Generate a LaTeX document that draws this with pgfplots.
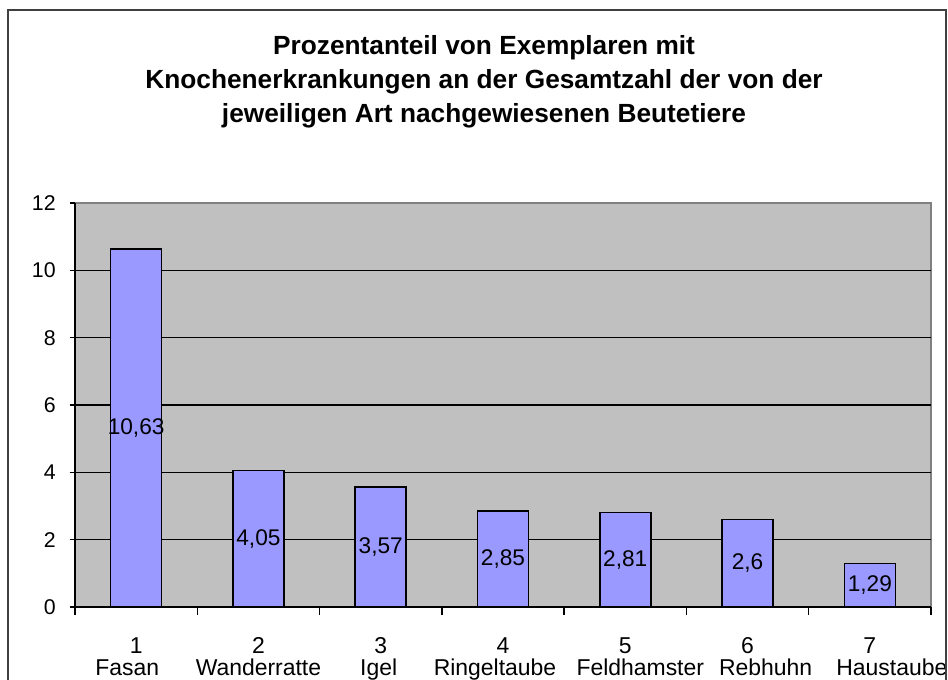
\documentclass[border=0pt]{standalone}
\usepackage{pgfplots}
\pgfplotsset{compat=1.18}
\usepackage{fontspec}
\setmainfont{Liberation Sans}
\definecolor{plotbg}{RGB}{192,192,192}
\definecolor{barfill}{RGB}{153,153,255}
\definecolor{plotedge}{RGB}{128,128,128}
\begin{document}
\begin{tikzpicture}
\useasboundingbox (-56.25pt,-54.75pt) rectangle (654.75pt,455.25pt);
\clip (-56.25pt,-54.75pt) rectangle (654.75pt,455.25pt);
\fill[white] (-56.25pt,-54.75pt) rectangle (654.75pt,455.25pt);
\begin{axis}[
  at={(0pt,0pt)}, anchor=south west,
  scale only axis, width=642pt, height=303pt,
  ybar, bar width=38.25pt,
  xmin=0.5, xmax=7.5, ymin=0, ymax=12,
  axis x line*=bottom, axis y line*=left,
  axis line style={black, line width=1.1pt},
  axis background/.style={fill=plotbg, draw=plotedge, line width=0.8pt},
  ytick={0,2,...,12},
  extra y ticks={2,4,6,8,10}, extra y tick labels={},
  extra y tick style={grid=major, major tick length=0pt},
  grid style={black, line width=1.2pt},
  xtick={1,...,7},
  xticklabels={{1\\Fasan\hspace*{13.5pt}},{2\\Wanderratte},{3\\Igel\hspace*{3pt}},{4\\Ringeltaube\hspace*{12pt}},{5\\\hspace*{22.5pt}Feldhamster},{6\\\hspace*{27pt}Rebhuhn},{7\\\hspace*{33pt}Haustaube}},
  minor xtick={0.5,1.5,...,7.5},
  tick align=outside,
  major tick length=4pt,
  minor tick length=6pt,
  tick style={black, line width=1.1pt},
  major x tick style={draw=none},
  xticklabel style={font={\fontsize{17.2}{16.3}\selectfont\lineskiplimit=-50pt}, align=center, anchor=north, text height=12.5pt, yshift=-31pt},
  yticklabel style={font=\fontsize{16}{16}\selectfont, xshift=-7pt},
  /pgf/number format/assume math mode=true,
  visualization depends on={\thisrow{y} \as \rawy},
  nodes near coords={\pgfmathprintnumber[use comma,precision=2]{\pgfplotspointmeta}},
  every node near coord/.append style={font=\fontsize{17}{17}\selectfont, text=black, anchor=center, yshift={-\rawy*12.625pt}},
  clip=false,
]
\addplot[fill=barfill, draw=black, line width=1.1pt] table {
x y
1 10.63
2 4.05
3 3.57
4 2.85
5 2.81
6 2.6
7 1.29
};
\end{axis}
\node[font=\bfseries\fontsize{19.7}{25.5}\selectfont, align=center] at (306.75pt,393.75pt)
  {Prozentanteil von Exemplaren mit\\Knochenerkrankungen an der Gesamtzahl der von der\\jeweiligen Art nachgewiesenen Beutetiere};
\draw[line width=1.5pt, black!75] (-50.25pt,-60pt) rectangle (653.25pt,447.75pt);
\end{tikzpicture}
\end{document}
